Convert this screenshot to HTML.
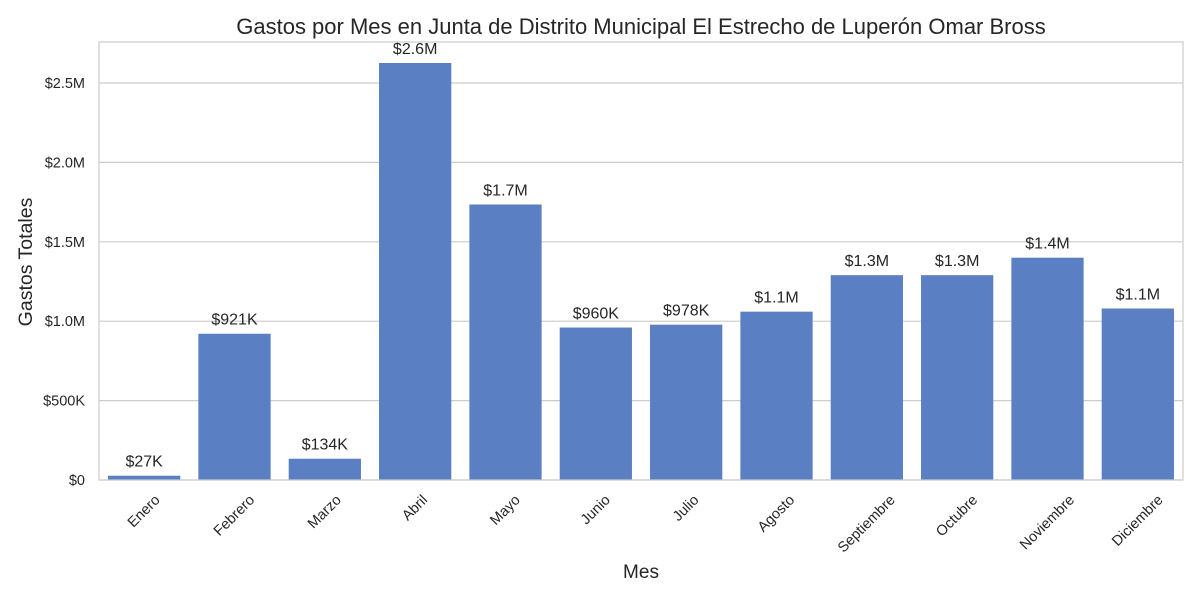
<!DOCTYPE html>
<html><head><meta charset="utf-8"><style>
body{margin:0;background:#fff}
text{font-family:"Liberation Sans","DejaVu Sans",sans-serif;fill:#262626}
</style></head><body>
<svg id="chart" width="1200" height="600" xmlns="http://www.w3.org/2000/svg">
<rect width="1200" height="600" fill="#fff"/>
<text x="641" y="34" font-size="22" text-anchor="middle">Gastos por Mes en Junta de Distrito Municipal El Estrecho de Luperón Omar Bross</text>
<text transform="translate(32,262) rotate(-90)" font-size="19.5" text-anchor="middle">Gastos Totales</text>
<text x="641" y="578" font-size="19" text-anchor="middle">Mes</text>
<g id="grid"></g><g id="bars"></g><g id="labels"></g><g id="xticks"></g>
<rect x="99" y="42" width="1084" height="438" fill="none" stroke="#cccccc" stroke-width="1.2"/>
</svg>
<script>
const categories=["Enero","Febrero","Marzo","Abril","Mayo","Junio","Julio","Agosto","Septiembre","Octubre","Noviembre","Diciembre"];
const values=[27000,921000,134000,2626000,1735000,960000,978000,1060000,1290000,1290000,1400000,1080000];
const yTicks=[0,500000,1000000,1500000,2000000,2500000];
const yTickLabels=["$0","$500K","$1.0M","$1.5M","$2.0M","$2.5M"];
const NS="http://www.w3.org/2000/svg";
const L=99,R=1183,T=42,B=480;
const y=v=>B-v*158.8/1e6;
const band=(R-L)/categories.length;
const x=i=>L+band*i+band/2;
function fmt(v){return v>=1e6?"$"+(v/1e6).toFixed(1)+"M":"$"+Math.round(v/1e3)+"K";}
function mk(tag,attrs,parent,txt){const e=document.createElementNS(NS,tag);for(const k in attrs)e.setAttribute(k,attrs[k]);if(txt!=null)e.textContent=txt;document.getElementById(parent).appendChild(e);return e;}
yTicks.forEach((t,i)=>{
 const g=mk("line",{x1:L,x2:R,y1:y(t),y2:y(t),stroke:"#cccccc","stroke-width":1.2},"grid");
 
 
 const tl=mk("text",{x:L-14,y:y(t)+5,"font-size":14.5,"text-anchor":"end"},"grid",yTickLabels[i]);
 
 
});
values.forEach((v,i)=>{
 const w=band*0.8;
 const b=mk("rect",{x:x(i)-w/2,y:y(v),width:w,height:B-y(v),fill:"#5b7fc3"},"bars");
 
 
 const lb=mk("text",{x:x(i),y:y(v)-9,"font-size":16,"text-anchor":"middle"},"labels",fmt(v));
 
 
 const xt=mk("text",{"font-size":14.5,"text-anchor":"middle","dominant-baseline":"central"},"xticks",categories[i]);
 
 
 const tw=xt.getComputedTextLength();
 const half=(tw+14)*0.707/2;
 xt.setAttribute("transform","translate("+x(i)+","+(493+half)+") rotate(-45)");
});
</script>
</body></html>
